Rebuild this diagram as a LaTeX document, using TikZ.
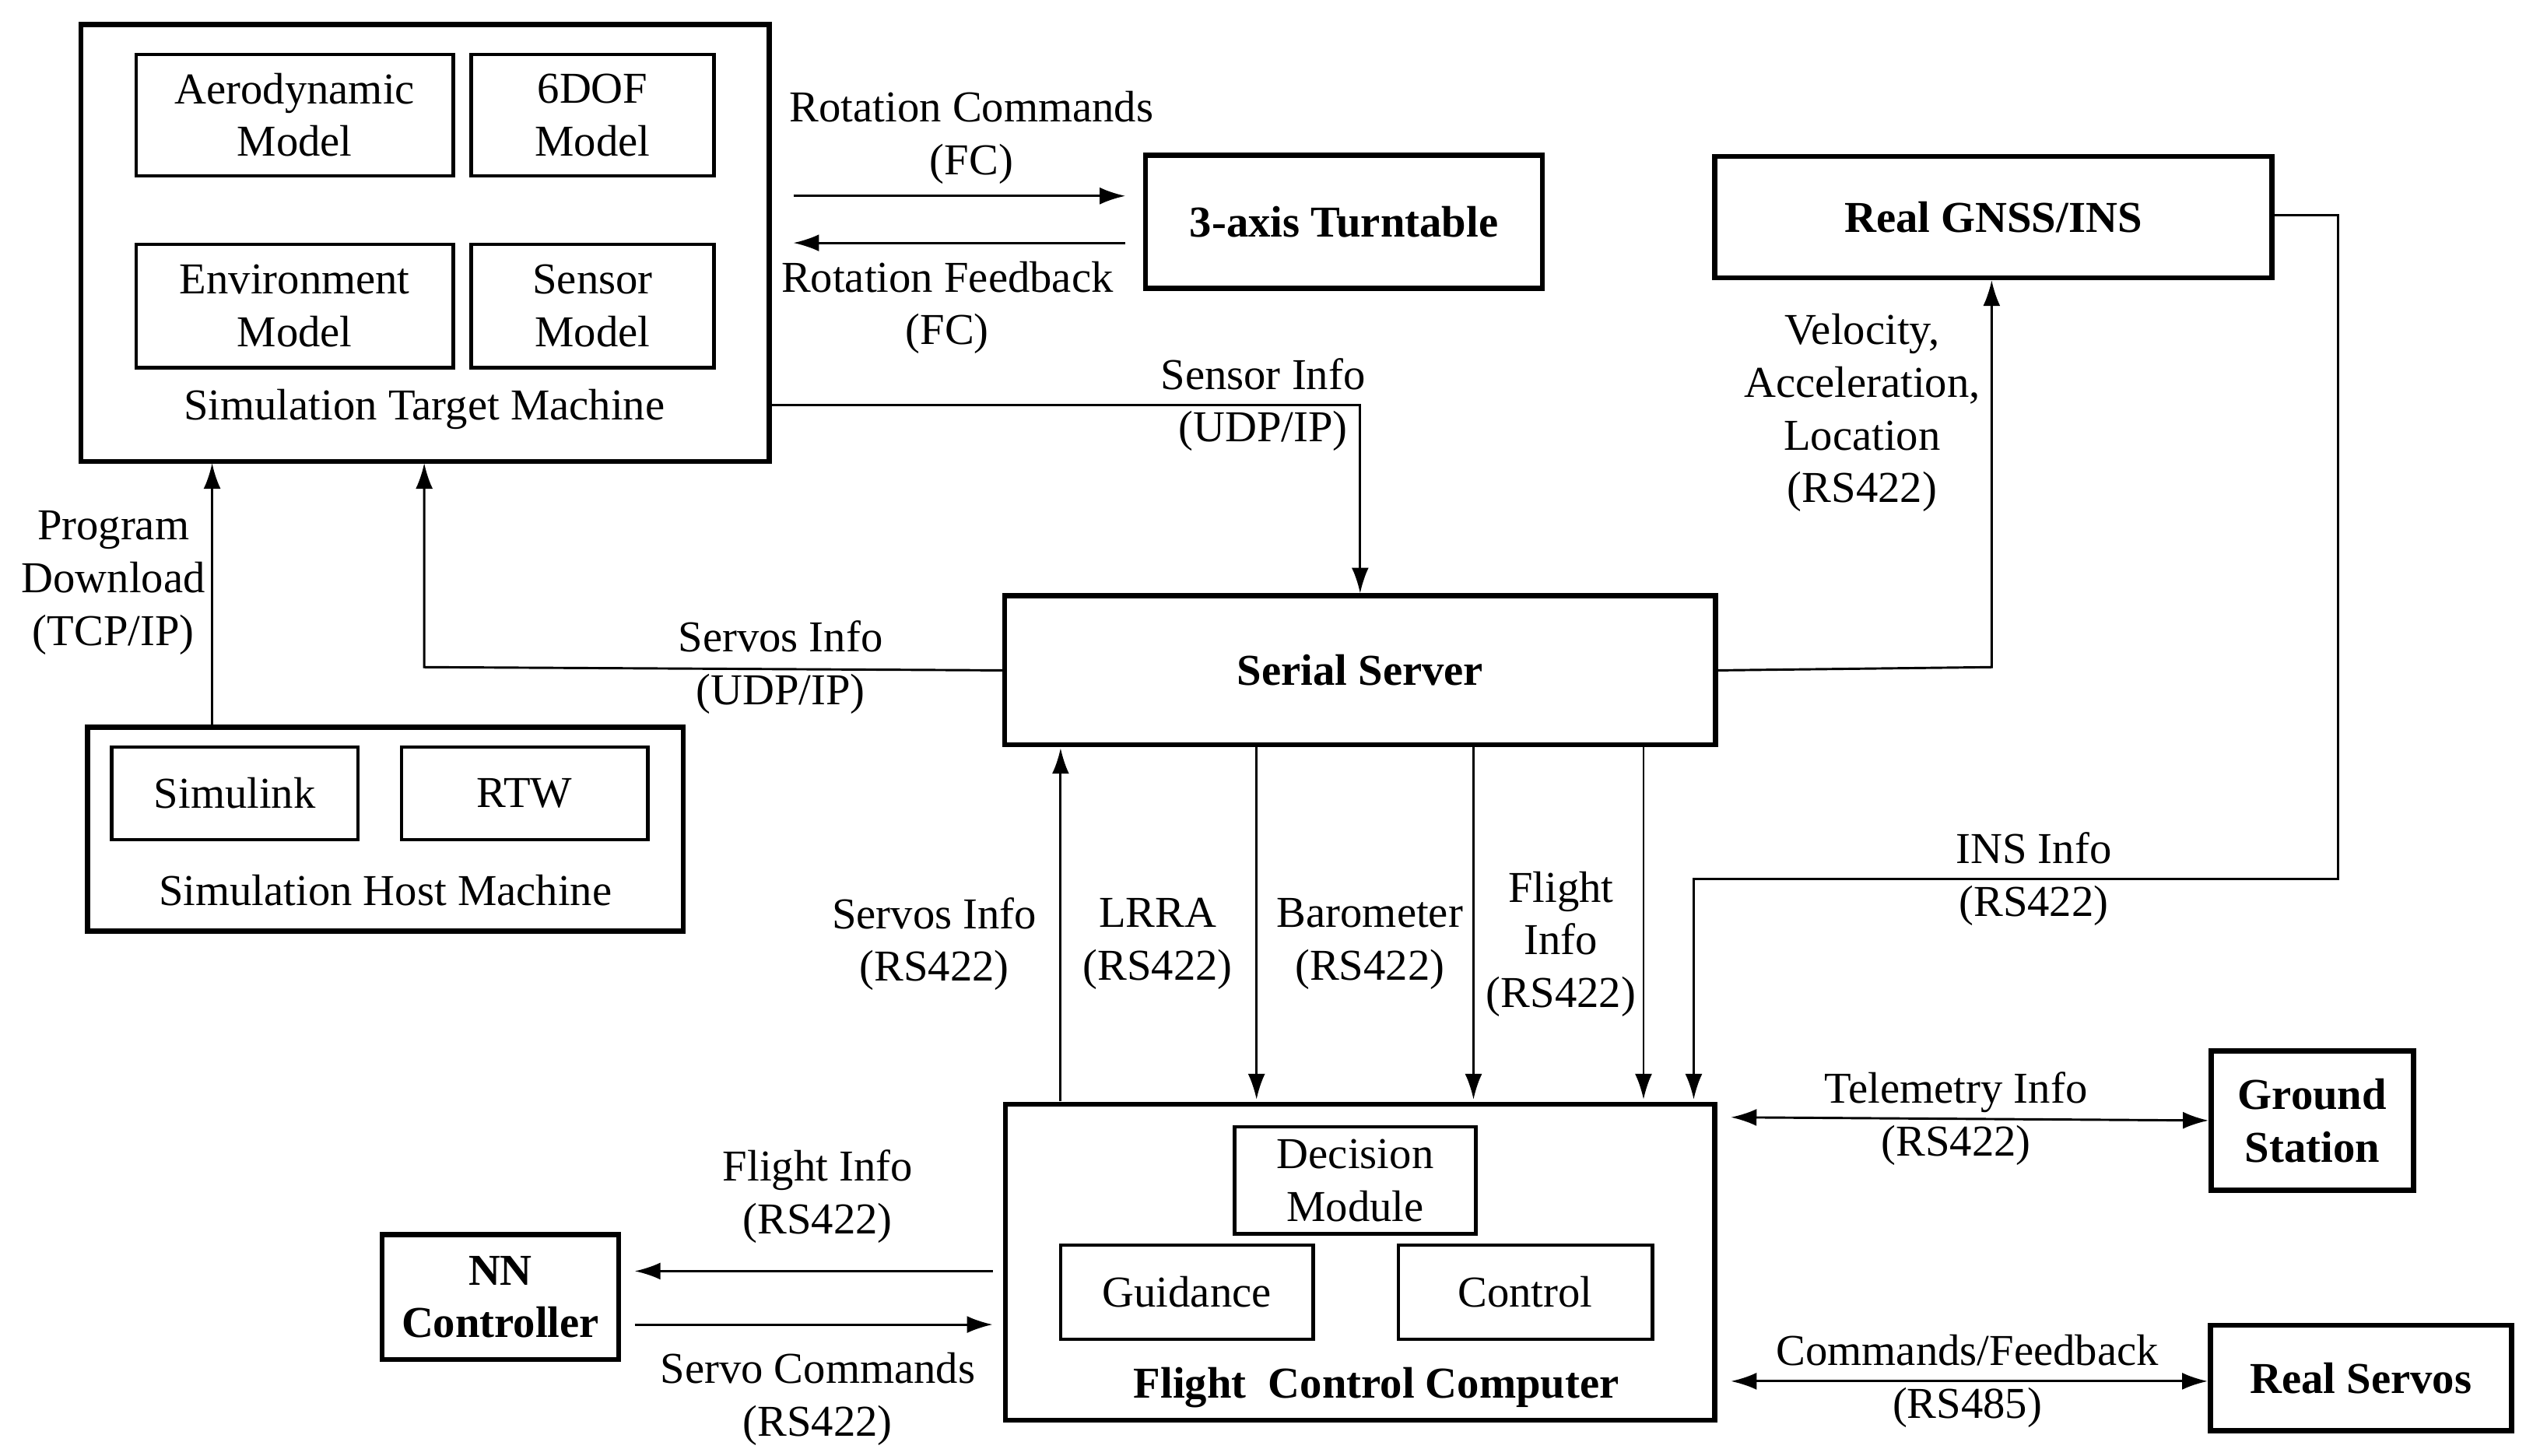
\documentclass[tikz,border=0pt]{standalone}
\usepackage{fontspec}
\setmainfont{Liberation Serif}
\usetikzlibrary{arrows.meta}
\begin{document}
\begin{tikzpicture}[x=0.02cm,y=-0.02cm,
  font=\fontsize{15.5}{18.5}\selectfont,
  outer/.style={draw,line width=1.8pt},
  inner/.style={draw,line width=1.2pt},
  lab/.style={align=center,inner sep=1pt},
  arr/.style={line width=0.8pt,-{Latex[length=9pt,width=6pt]}},
  darr/.style={line width=0.8pt,{Latex[length=9pt,width=6pt]}-{Latex[length=9pt,width=6pt]}}]
\useasboundingbox (0,0) rectangle (1560,899);
% boxes
\draw[outer] (50,15) rectangle (475,285);
\coordinate (stm) at (50,15);
\node[inner,minimum width=196*0.02cm,minimum height=75*0.02cm,align=center] (aero) at (182,71) {Aerodynamic\\Model};
\node[inner,minimum width=150*0.02cm,minimum height=75*0.02cm,align=center] (dof) at (366,71) {6DOF\\Model};
\node[inner,minimum width=196*0.02cm,minimum height=76*0.02cm,align=center] (env) at (182,189) {Environment\\Model};
\node[inner,minimum width=150*0.02cm,minimum height=76*0.02cm,align=center] (sen) at (366,189) {Sensor\\Model};
\node[lab] (stmlab) at (262,253) {Simulation Target Machine};
\node[outer,minimum width=245*0.02cm,minimum height=82*0.02cm,font=\fontsize{15.5}{18.5}\selectfont\bfseries] (turn) at (830,137) {3-axis Turntable};
\node[outer,minimum width=344*0.02cm,minimum height=75*0.02cm,font=\fontsize{15.5}{18.5}\selectfont\bfseries] (gnss) at (1231,134) {Real GNSS/INS};
\node[outer,minimum width=439*0.02cm,minimum height=92*0.02cm,font=\fontsize{15.5}{18.5}\selectfont\bfseries] (ser) at (840,414) {Serial Server};
\draw[outer] (54,449) rectangle (422,575);
\node[inner,minimum width=152*0.02cm,minimum height=57*0.02cm] (simu) at (145,490) {Simulink};
\node[inner,minimum width=152*0.02cm,minimum height=57*0.02cm] (rtw) at (324,490) {RTW};
\node[lab] (shmlab) at (238,550) {Simulation Host Machine};
\draw[outer] (621,682) rectangle (1059,877);
\node[inner,minimum width=149*0.02cm,minimum height=66*0.02cm,align=center] (dec) at (837,729) {Decision\\Module};
\node[inner,minimum width=156*0.02cm,minimum height=58*0.02cm] (gui) at (733,798) {Guidance};
\node[inner,minimum width=157*0.02cm,minimum height=58*0.02cm] (ctl) at (942,798) {Control};
\node[lab,font=\fontsize{15.5}{18.5}\selectfont\bfseries] (fcclab) at (850,857) {Flight\ \ Control Computer};
\node[outer,minimum width=146*0.02cm,minimum height=77*0.02cm,align=center,font=\fontsize{15.5}{18.5}\selectfont\bfseries] (nn) at (309,801) {NN\\Controller};
\node[outer,minimum width=125*0.02cm,minimum height=86*0.02cm,align=center,font=\fontsize{15.5}{18.5}\selectfont\bfseries] (gs) at (1428,692) {Ground\\Station};
\node[outer,minimum width=186*0.02cm,minimum height=65*0.02cm,font=\fontsize{15.5}{18.5}\selectfont\bfseries] (rs) at (1458,851) {Real Servos};
% connectors
\coordinate (a1) at (490,121); \coordinate (a2) at (695,121);
\draw[arr] (a1) -- (a2);
\coordinate (b1) at (695,150); \coordinate (b2) at (490,150);
\draw[arr] (b1) -- (b2);
\node[lab] at (600,85) {Rotation Commands\\(FC)};
\node[lab] at (585,190) {Rotation Feedback\\(FC)};
\coordinate (c1) at (475,250); \coordinate (c2) at (840,250);
\draw[arr] (c1) -- (c2) -- (ser.north);
\node[lab] at (780,250) {Sensor Info\\(UDP/IP)};
\coordinate (d1) at (131,449); \coordinate (d2) at (131,286);
\draw[arr] (d1) -- (d2);
\node[lab] at (70,360) {Program\\Download\\(TCP/IP)};
\coordinate (e2) at (262,412); \coordinate (e3) at (262,286);
\draw[arr] (ser.west) -- (e2) -- (e3);
\node[lab] at (482,412) {Servos Info\\(UDP/IP)};
\coordinate (f1) at (1230,412);
\draw[arr] (ser.east) -- (f1) -- (gnss.south -| f1);
\node[lab] at (1150,255) {Velocity,\\Acceleration,\\Location\\(RS422)};
\coordinate (g1) at (1444,133); \coordinate (g2) at (1444,543); \coordinate (g3) at (1046,543); \coordinate (g4) at (1046,679);
\draw[arr] (gnss.east |- g1) -- (g1) -- (g2) -- (g3) -- (g4);
\node[lab] at (1256,543) {INS Info\\(RS422)};
\coordinate (h1) at (655,680); \coordinate (h2) at (655,462);
\draw[arr] (h1) -- (h2);
\node[lab] at (577,583) {Servos Info\\(RS422)};
\foreach \x/\n in {776/i,910/j,1015/k}{
  \coordinate (\n1) at (\x,460); \coordinate (\n2) at (\x,679);
  \draw[arr] (\n1) -- (\n2);}
\node[lab] at (715,583) {LRRA\\(RS422)};
\node[lab] at (846,583) {Barometer\\(RS422)};
\node[lab] at (964,583) {Flight\\Info\\(RS422)};
\coordinate (t1) at (1069,690);
\draw[darr] (t1) -- (gs.west);
\node[lab] at (1208,691) {Telemetry Info\\(RS422)};
\coordinate (u1) at (1069,853);
\draw[darr] (u1) -- (rs.west |- u1);
\node[lab] at (1215,853) {Commands/Feedback\\(RS485)};
\coordinate (v1) at (613,785); \coordinate (v2) at (392,785);
\draw[arr] (v1) -- (v2);
\coordinate (w1) at (392,818); \coordinate (w2) at (613,818);
\draw[arr] (w1) -- (w2);
\node[lab] at (505,739) {Flight Info\\(RS422)};
\node[lab] at (505,864) {Servo Commands\\(RS422)};
\end{tikzpicture}
\end{document}
